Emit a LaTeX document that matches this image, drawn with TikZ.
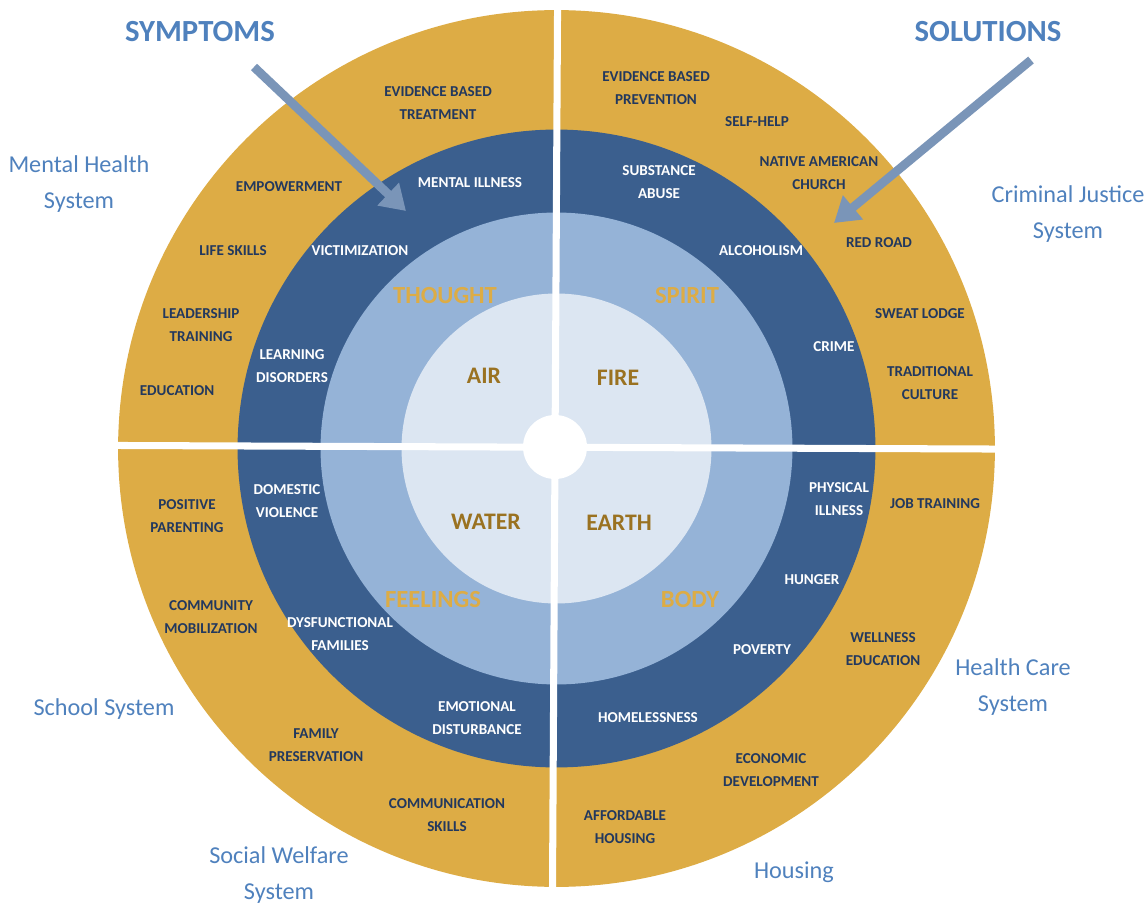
\documentclass[tikz,border=0pt]{standalone}
\usepackage{fontspec}
\setmainfont{Carlito}
\usetikzlibrary{arrows.meta}

\definecolor{ringgold}{HTML}{DDAC45}
\definecolor{ringnavy}{HTML}{3B5F8E}
\definecolor{ringsky}{HTML}{95B3D7}
\definecolor{ringpale}{HTML}{DCE6F2}
\definecolor{labelblue}{HTML}{4F81BD}
\definecolor{inktext}{HTML}{22385E}
\definecolor{elembrown}{HTML}{9A7221}
\definecolor{arrowgrey}{HTML}{7A95B8}

\begin{document}
\begin{tikzpicture}[x=0.02cm, y=-0.02cm,
    sol/.style={font=\fontsize{8.6}{13}\selectfont\bfseries, text=inktext, align=center},
    sym/.style={font=\fontsize{8.6}{13}\selectfont\bfseries, text=white, align=center},
    realm/.style={font=\fontsize{14}{14}\selectfont\bfseries, text=ringgold},
    elem/.style={font=\fontsize{13.5}{14}\selectfont\bfseries, text=elembrown},
    sys/.style={font=\fontsize{13.8}{20}\selectfont, text=labelblue, align=center},
    head/.style={font=\fontsize{17.5}{18}\selectfont\bfseries, text=labelblue},
    pointer/.style={arrowgrey, line width=5pt, -{Triangle[width=17pt,length=14pt]}},
    gap/.style={white, line width=4pt},
  ]
  \useasboundingbox (0,0) rectangle (1146,905);

  % rings, outside in
  \coordinate (c) at (556.5,448.5);
  \fill[ringgold] (c) circle[radius=8.77cm];
  \fill[ringnavy] (c) circle[radius=6.38cm];
  \fill[ringsky]  (c) circle[radius=4.72cm];
  \fill[ringpale] (c) circle[radius=3.10cm];

  % cuts between the quarters
  \coordinate (cuttop) at (557.6,0);
  \coordinate (cutbot) at (552.4,905);
  \coordinate (cutleft) at (100,445.4);
  \coordinate (cutright) at (1010,449.1);
  \draw[gap] (cuttop) -- (cutbot);
  \draw[gap] (cutleft) -- (cutright);
  \fill[white] (555,447) circle[radius=0.64cm];

  % headings and pointers
  \node[head] (symptoms) at (200,32) {SYMPTOMS};
  \node[head] (solutions) at (988,32) {SOLUTIONS};
  \coordinate (symtail) at (254,67);
  \coordinate (symtip) at (406,211);
  \coordinate (soltail) at (1031,60);
  \coordinate (soltip) at (834,223);
  \draw[pointer] (symtail) -- (symtip);
  \draw[pointer] (soltail) -- (soltip);

  % systems round the outside
  \node[sys] (mental) at (79,184) {Mental Health\\System};
  \node[sys] (justice) at (1068,214) {Criminal Justice\\System};
  \node[sys] (school) at (104,709) {School System};
  \node[sys] (welfare) at (279,875) {Social Welfare\\System};
  \node[sys] (health) at (1013,687) {Health Care\\System};
  \node[sys] (housing) at (794,872) {Housing};

  % thought / air
  \node[sol] (ebt) at (438,103) {EVIDENCE BASED\\TREATMENT};
  \node[sol] (empower) at (289,187) {EMPOWERMENT};
  \node[sol] (life) at (233,251) {LIFE SKILLS};
  \node[sol] (leader) at (201,325) {LEADERSHIP\\TRAINING};
  \node[sol] (educ) at (177,391) {EDUCATION};
  \node[sym] (mill) at (470,183) {MENTAL ILLNESS};
  \node[sym] (victim) at (360,251) {VICTIMIZATION};
  \node[sym] (learn) at (292,366) {LEARNING\\DISORDERS};
  \node[realm] (thought) at (445,296) {THOUGHT};
  \node[elem] (air) at (484,376) {AIR};

  % spirit / fire
  \node[sol] (ebp) at (656,88) {EVIDENCE BASED\\PREVENTION};
  \node[sol] (selfhelp) at (757,122) {SELF-HELP};
  \node[sol] (nac) at (819,173) {NATIVE AMERICAN\\CHURCH};
  \node[sol] (redroad) at (879,243) {RED ROAD};
  \node[sol] (sweat) at (920,314) {SWEAT LODGE};
  \node[sol] (tradcult) at (930,383) {TRADITIONAL\\CULTURE};
  \node[sym] (subst) at (659,182) {SUBSTANCE\\ABUSE};
  \node[sym] (alcohol) at (761,251) {ALCOHOLISM};
  \node[sym] (crime) at (834,347) {CRIME};
  \node[realm] (spirit) at (687,296) {SPIRIT};
  \node[elem] (fire) at (618,378) {FIRE};

  % feelings / water
  \node[sol] (parent) at (187,516) {POSITIVE\\PARENTING};
  \node[sol] (commob) at (211,617) {COMMUNITY\\MOBILIZATION};
  \node[sol] (famp) at (316,745) {FAMILY\\PRESERVATION};
  \node[sol] (commsk) at (447,815) {COMMUNICATION\\SKILLS};
  \node[sym] (domv) at (287,501) {DOMESTIC\\VIOLENCE};
  \node[sym] (dysf) at (340,634) {DYSFUNCTIONAL\\FAMILIES};
  \node[sym] (emot) at (477,718) {EMOTIONAL\\DISTURBANCE};
  \node[realm] (feelings) at (433,600) {FEELINGS};
  \node[elem] (water) at (486,522) {WATER};

  % body / earth
  \node[sol] (job) at (935,504) {JOB TRAINING};
  \node[sol] (well) at (883,649) {WELLNESS\\EDUCATION};
  \node[sol] (econ) at (771,770) {ECONOMIC\\DEVELOPMENT};
  \node[sol] (afford) at (625,827) {AFFORDABLE\\HOUSING};
  \node[sym] (phys) at (839,499) {PHYSICAL\\ILLNESS};
  \node[sym] (hunger) at (812,580) {HUNGER};
  \node[sym] (poverty) at (762,650) {POVERTY};
  \node[sym] (homeless) at (648,718) {HOMELESSNESS};
  \node[realm] (body) at (690,600) {BODY};
  \node[elem] (earth) at (619,523) {EARTH};
\end{tikzpicture}
\end{document}
